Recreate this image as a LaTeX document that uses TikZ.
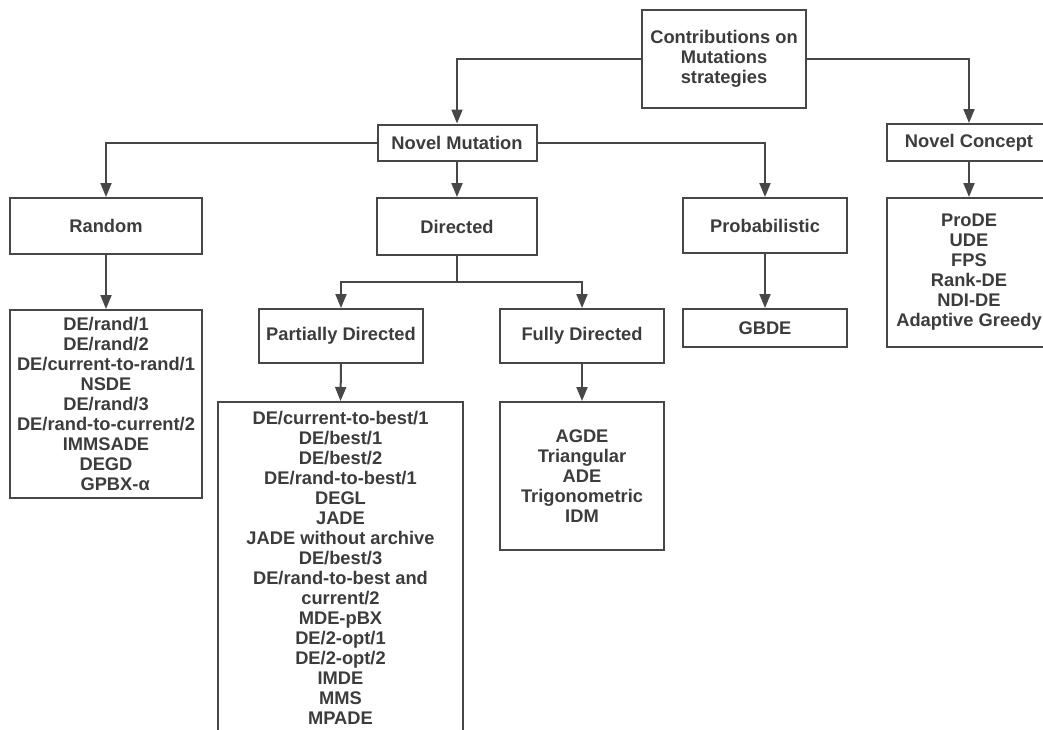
\documentclass[tikz,border=0pt]{standalone}
\usepackage{fontspec}
\setmainfont{Liberation Sans}
\usetikzlibrary{arrows.meta}
\definecolor{linegray}{HTML}{474747}
\definecolor{textgray}{HTML}{3C3C3C}

\begin{document}
\begin{tikzpicture}[x=1pt, y=-1pt, line width=2pt,
    main/.style = {draw=linegray, rectangle, inner sep=0pt, align=center, text=textgray,
                   font=\fontsize{18.3}{20}\selectfont\bfseries},
    arr/.style = {draw=linegray, -{Triangle[length=14pt,width=11pt]}}]
        \useasboundingbox (0,0) rectangle (1043,729);

        \node[main, minimum width=164, minimum height=98] (T) at (724,59) {Contributions on\\Mutations\\strategies};

        \node[main, minimum width=159, minimum height=36] (NM) at (457,142.5) {Novel Mutation};
        \node[main, minimum width=164, minimum height=37] (NC) at (969,142.5) {Novel Concept};

        \node[main, minimum width=192, minimum height=56] (R) at (106,226) {Random};
        \node[main, minimum width=160, minimum height=57] (D) at (457,226.5) {Directed};
        \node[main, minimum width=164, minimum height=55] (P) at (765,225.5) {Probabilistic};
        \node[main, minimum width=164, minimum height=149] (CL) at (969,272.5) {ProDE\\UDE\\FPS\\Rank-DE\\NDI-DE\\Adaptive Greedy};

        \node[main, minimum width=192, minimum height=188] (RL) at (106,404) {DE/rand/1\\DE/rand/2\\DE/current-to-rand/1\\NSDE\\DE/rand/3\\DE/rand-to-current/2\\IMMSADE\\DEGD\\\hspace*{1em}GPBX-α};
        \node[main, minimum width=164, minimum height=54] (PD) at (341,336) {Partially Directed};
        \node[main, minimum width=164, minimum height=54] (FD) at (582,336) {Fully Directed};
        \node[main, minimum width=164, minimum height=38] (G) at (765,328) {GBDE};

        \node[main, minimum width=245, minimum height=332] (PL) at (340.5,568) {DE/current-to-best/1\\DE/best/1\\DE/best/2\\DE/rand-to-best/1\\DEGL\\JADE\\JADE without archive\\DE/best/3\\DE/rand-to-best and\\current/2\\MDE-pBX\\DE/2-opt/1\\DE/2-opt/2\\IMDE\\MMS\\MPADE};
        \node[main, minimum width=164, minimum height=148] (FL) at (582,476) {AGDE\\Triangular\\ADE\\Trigonometric\\IDM};

        \coordinate (J) at (457,282);

        \draw[arr] (T.west) -| (NM.north);
        \draw[arr] (T.east) -| (NC.north);

        \draw[arr] (NM.west) -| (R.north);
        \draw[arr] (NM.south) -- (D.north);
        \draw[arr] (NM.east) -| (P.north);
        \draw[arr] (NC.south) -- (CL.north);

        \draw[arr] (R.south) -- (RL.north);
        \draw[draw=linegray] (D.south) -- (J);
        \draw[arr] (J) -| (PD.north);
        \draw[arr] (J) -| (FD.north);
        \draw[arr] (P.south) -- (G.north);

        \draw[arr] (PD.south) -- (PL.north);
        \draw[arr] (FD.south) -- (FL.north);
    \end{tikzpicture}
\end{document}
